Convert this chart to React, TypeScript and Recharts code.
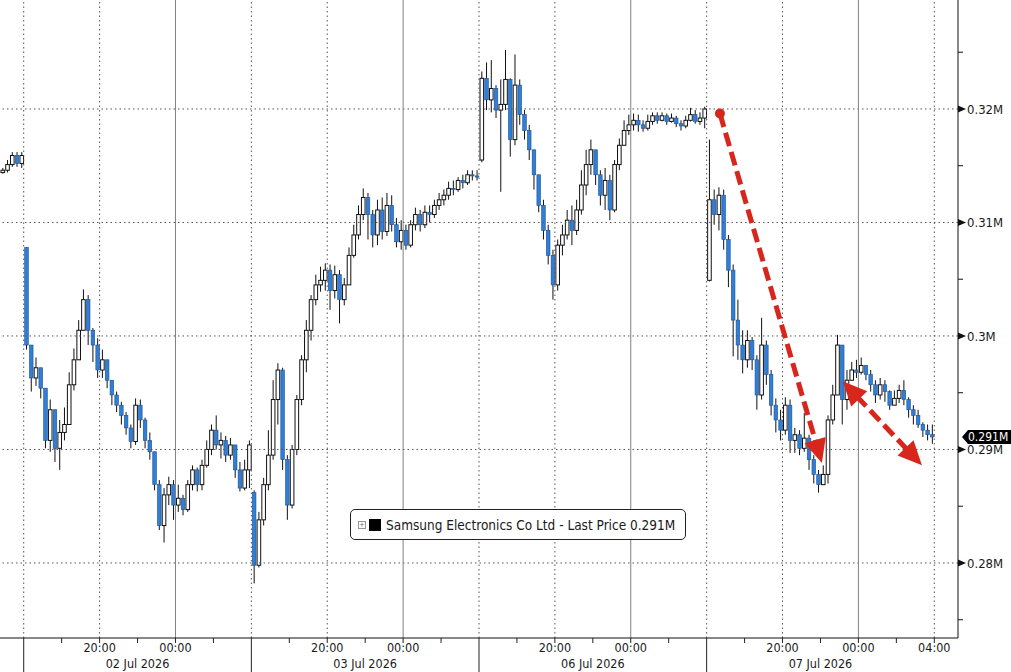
import React from "react";
import { Bar, ComposedChart, ReferenceDot, ReferenceLine, XAxis, YAxis } from "recharts";

// 15-minute candles, values in thousands: [high, low, close]; open = previous close
const sessionDates = ["01 Jul 2026", "02 Jul 2026", "03 Jul 2026", "06 Jul 2026", "07 Jul 2026"];
const sessionOpens = [314.4, 307.8, 286.2, 315.5, 304.9];
const sessionStart = [0, 5, 53, 101, 149];

const jul01 = [
  [314.8, 314.3, 314.6], [315.5, 314.4, 315.1], [316.2, 314.9, 315.9], [316.2, 314.9, 315.2], [316.2, 314.8, 315.9],
];

const jul02 = [
  [307.8, 298.8, 299.2], [297.7, 295.1, 296.3], [298.1, 295.6, 297.2], [296.8, 294.5, 295.4], [293.3, 290.1, 290.8],
  [294.4, 289.8, 293.5], [292.8, 288.9, 290.1], [292.6, 288.2, 291.5], [293.7, 290.8, 292.2], [296.8, 293.5, 295.7],
  [298.9, 295.2, 297.9], [301.4, 297.9, 300.5], [304.1, 300.5, 303.2], [303.6, 299.2, 300.5], [300.7, 297.7, 299.2],
  [299.8, 296.3, 297.0], [298.8, 296.3, 297.9], [297.9, 295.4, 296.1], [296.1, 293.9, 294.8], [295.1, 293.3, 293.9],
  [294.2, 292.2, 293.0], [293.3, 291.3, 291.9], [292.2, 290.1, 290.7], [294.5, 290.4, 293.9], [294.4, 291.9, 292.6],
  [292.8, 290.1, 290.8], [291.5, 289.1, 289.8], [289.5, 286.4, 286.9], [287.3, 282.9, 283.3], [286.6, 281.8, 286.0],
  [287.6, 285.1, 286.9], [287.3, 283.8, 285.1], [286.9, 284.5, 285.7], [286.0, 284.2, 284.7], [287.3, 284.5, 286.9],
  [288.6, 286.4, 288.2], [288.4, 286.3, 286.9], [289.1, 286.4, 288.6], [290.8, 288.4, 290.0], [292.2, 289.5, 291.7],
  [293.0, 290.0, 290.4], [291.5, 289.2, 290.8], [291.2, 288.9, 289.5], [291.0, 289.1, 290.4], [290.4, 287.5, 288.2],
  [288.9, 286.3, 286.6], [289.1, 286.4, 288.2], [290.8, 286.6, 290.4],
];

const jul03 = [
  [286.4, 278.2, 279.8], [284.5, 279.6, 283.8], [287.5, 283.3, 286.9], [291.7, 286.4, 289.5], [296.1, 289.1, 294.4],
  [297.6, 292.2, 297.0], [297.2, 288.2, 289.1], [289.5, 283.8, 285.1], [290.4, 284.8, 290.0], [294.8, 289.5, 294.4],
  [298.3, 293.9, 297.9], [301.4, 296.8, 300.5], [303.6, 299.6, 303.2], [305.4, 302.7, 304.5], [306.1, 303.9, 304.9],
  [306.4, 304.0, 305.8], [306.3, 302.3, 304.0], [306.2, 303.3, 305.4], [305.8, 301.1, 303.2], [305.1, 302.7, 304.5],
  [307.8, 304.5, 307.1], [309.8, 306.9, 308.9], [311.5, 308.5, 310.7], [313.0, 310.2, 312.2], [312.6, 308.5, 310.7],
  [311.1, 307.8, 308.9], [312.0, 308.0, 311.1], [312.2, 308.5, 309.2], [312.6, 308.8, 311.5], [312.4, 309.2, 309.8],
  [310.4, 307.8, 308.3], [310.2, 307.6, 309.3], [309.8, 307.6, 308.0], [310.2, 307.8, 309.8], [311.3, 309.3, 310.7],
  [311.1, 309.2, 309.8], [311.5, 309.5, 310.9], [311.5, 310.0, 310.7], [312.0, 310.4, 311.5], [312.6, 311.1, 312.0],
  [312.9, 311.5, 312.4], [313.6, 312.0, 313.0], [313.7, 312.4, 312.9], [314.0, 312.7, 313.7], [314.2, 313.0, 313.5],
  [314.6, 313.3, 314.2], [314.6, 313.7, 314.1], [314.6, 313.7, 314.0],
];

const jul06 = [
  [323.3, 315.3, 322.7], [324.1, 319.9, 320.8], [324.3, 319.7, 321.8], [322.1, 319.2, 319.9], [322.6, 312.7, 320.4],
  [325.2, 319.9, 322.6], [322.7, 315.8, 317.3], [324.8, 316.8, 322.1], [322.6, 318.6, 319.5], [319.9, 317.3, 318.1],
  [318.6, 315.5, 316.4], [316.4, 312.9, 314.2], [314.2, 310.9, 311.5], [312.0, 308.5, 309.3], [309.8, 306.3, 307.1],
  [307.6, 303.2, 304.5], [308.5, 304.0, 308.0], [309.8, 307.1, 308.9], [311.1, 308.5, 310.2], [311.5, 308.0, 309.3],
  [312.0, 308.9, 311.1], [314.6, 310.7, 313.3], [316.4, 312.4, 315.1], [317.3, 314.2, 316.4], [316.4, 313.3, 314.2],
  [314.6, 311.5, 312.4], [314.8, 311.1, 313.7], [314.2, 310.2, 311.1], [315.5, 310.9, 315.1], [317.4, 314.6, 316.8],
  [319.0, 316.8, 318.1], [319.5, 317.7, 318.6], [319.6, 318.1, 319.0], [319.5, 318.0, 318.6], [319.0, 318.0, 318.3],
  [319.5, 318.1, 318.9], [319.7, 318.6, 319.4], [319.7, 318.7, 319.0], [319.7, 318.9, 319.4], [319.6, 318.6, 318.9],
  [319.6, 318.8, 319.2], [319.4, 318.4, 318.7], [319.0, 318.1, 318.5], [319.4, 318.3, 319.0], [320.1, 318.9, 319.5],
  [319.9, 318.7, 318.9], [319.7, 318.6, 319.2], [320.2, 318.3, 320.0],
];

const jul07 = [
  [317.3, 304.8, 312.0], [312.9, 309.8, 310.7], [313.1, 309.3, 312.4], [312.9, 307.6, 308.5], [308.9, 304.3, 305.8],
  [306.3, 298.2, 301.4], [303.2, 297.9, 299.2], [300.5, 296.7, 297.9], [300.5, 297.2, 299.6], [299.9, 297.0, 297.9],
  [298.3, 293.5, 294.8], [301.6, 294.4, 299.2], [299.6, 295.7, 296.6], [297.0, 293.0, 293.9], [294.5, 291.5, 292.6],
  [293.5, 290.8, 291.7], [294.6, 291.3, 293.9], [294.4, 289.7, 290.8], [291.9, 289.7, 291.3], [291.7, 289.5, 290.1],
  [293.2, 289.8, 291.0], [291.3, 288.2, 289.1], [289.5, 287.0, 287.8], [288.2, 286.2, 286.9], [288.6, 286.9, 287.8],
  [293.0, 287.0, 292.6], [295.7, 292.2, 294.8], [300.1, 294.8, 299.2], [299.2, 292.2, 294.4], [297.0, 293.5, 296.1],
  [297.7, 296.1, 297.0], [297.9, 296.3, 296.8], [298.1, 296.6, 297.4], [297.4, 296.1, 296.6], [297.0, 295.1, 295.7],
  [296.1, 294.1, 294.8], [296.3, 294.4, 295.7], [296.1, 294.2, 295.1], [295.2, 293.5, 293.9], [295.2, 293.9, 294.5],
  [295.7, 294.1, 295.2], [296.1, 293.9, 294.4], [294.6, 292.8, 293.5], [293.9, 292.2, 293.0], [293.5, 291.9, 292.2],
  [292.4, 291.1, 291.7], [292.2, 290.8, 291.3], [292.2, 290.5, 291.1],
];

const sessions = [jul01, jul02, jul03, jul06, jul07];

// axis
const yMajor = [280, 290, 300, 310, 320];
const yTicks = [275, 280, 285, 290, 295, 300, 305, 310, 315, 320, 325];
const xTicks = [5, 13, 21, 29, 37, 45, 53, 61, 69, 77, 85, 93, 101, 109, 117, 125, 133, 141, 149, 157, 165, 173, 181, 189, 197];
const hourLabels: Record<number, string> = { 16: "20:00", 32: "00:00" };

// annotations
const downArrow = [{ x: 151.8, y: 319.6 }, { x: 173.3, y: 288.8 }];
const reboundArrow = [{ x: 177.7, y: 296.0 }, { x: 194.4, y: 288.6 }];

const RED = "#d9261c";
const FONT = "'DejaVu Sans Condensed', 'DejaVu Sans', sans-serif";
const W = 1011;
const H = 672;
const AXIS_Y = 638;

const rows: any[] = [];
sessions.forEach((candles, s) => {
  let prev = sessionOpens[s];
  candles.forEach(([h, l, c], i) => {
    const o = prev;
    const hi = Math.max(h, o, c);
    const lo = Math.min(l, o, c);
    rows.push({ t: sessionStart[s] + i + 0.5, o, h: hi, l: lo, c, range: [lo, hi] });
    prev = c;
  });
});
const lastClose = rows[rows.length - 1].c;
const fmtM = (v: number) => `${+(v / 1000).toFixed(3)}M`;

const Candle = (props: any) => {
  const { x, y, width, height, payload } = props;
  if (x == null || payload == null) return null;
  const top = Math.min(y, y + height);
  const bot = Math.max(y, y + height);
  const { o, h, l, c } = payload;
  const span = h - l || 1;
  const py = (v: number) => top + ((h - v) / span) * (bot - top);
  const cx = x + width / 2;
  const up = c >= o;
  const bt = py(Math.max(o, c));
  const bb = py(Math.min(o, c));
  return (
    <g>
      <line x1={cx} x2={cx} y1={top} y2={bot} stroke="#111" strokeWidth={1} />
      <rect
        x={x}
        y={bt}
        width={width}
        height={Math.max(bb - bt, 1)}
        fill={up ? "#ffffff" : "#2f7ed8"}
        stroke={up ? "#111" : "#1d4f8f"}
        strokeWidth={up ? 1 : 0.6}
      />
    </g>
  );
};

const XTick = (props: any) => {
  const { x, y, payload } = props;
  const b = payload.value;
  const off = (b - 5) % 48;
  const s = Math.floor((b - 5) / 48) + 1;
  const isSep = off === 0 && b < 197;
  const label = b === 197 ? "04:00" : hourLabels[off];
  return (
    <g>
      <line x1={x} x2={x} y1={y} y2={isSep ? H : y + 5} stroke="#222" strokeWidth={1} />
      {label && (
        <text x={x} y={y + 14} textAnchor="middle" fontSize={12.5} fill="#1a1a1a" fontFamily={FONT}>
          {label}
        </text>
      )}
      {off === 24 && (
        <text x={x} y={y + 30} textAnchor="middle" fontSize={12.5} fill="#1a1a1a" fontFamily={FONT}>
          {sessionDates[s]}
        </text>
      )}
    </g>
  );
};

const YTick = (props: any) => {
  const { x, y, payload } = props;
  const v = payload.value;
  if (!yMajor.includes(v)) {
    return <line x1={x} x2={x + 5} y1={y} y2={y} stroke="#111" strokeWidth={1} />;
  }
  return (
    <g>
      <polygon points={`${x},${y - 3.5} ${x + 8},${y} ${x},${y + 3.5}`} fill="#111" />
      <text x={x + 9} y={y} dy="0.36em" fontSize={13} fill="#1a1a1a" fontFamily={FONT}>
        {fmtM(v)}
      </text>
    </g>
  );
};

const arrowShape = (both: boolean) => (p: any) => {
  const { x1, y1, x2, y2 } = p;
  const a = Math.atan2(y2 - y1, x2 - x1);
  const L = 24;
  const Wd = 11;
  const head = (tx: number, ty: number, ang: number) => {
    const bx = tx - L * Math.cos(ang);
    const by = ty - L * Math.sin(ang);
    return `${tx},${ty} ${bx + Wd * Math.sin(ang)},${by - Wd * Math.cos(ang)} ${bx - Wd * Math.sin(ang)},${by + Wd * Math.cos(ang)}`;
  };
  const sx = both ? x1 + (L - 4) * Math.cos(a) : x1;
  const sy = both ? y1 + (L - 4) * Math.sin(a) : y1;
  const ex = x2 - (L - 4) * Math.cos(a);
  const ey = y2 - (L - 4) * Math.sin(a);
  return (
    <g>
      <line x1={sx} y1={sy} x2={ex} y2={ey} stroke={RED} strokeWidth={5} strokeDasharray="14 6" />
      <polygon points={head(x2, y2, a)} fill={RED} />
      {both && <polygon points={head(x1, y1, a + Math.PI)} fill={RED} />}
    </g>
  );
};

const PriceTag = (props: any) => {
  const { cx, cy } = props;
  if (cx == null) return null;
  const x0 = cx + 4;
  return (
    <g>
      <polygon
        points={`${x0},${cy} ${x0 + 6},${cy - 7} ${W},${cy - 7} ${W},${cy + 7} ${x0 + 6},${cy + 7}`}
        fill="#000"
      />
      <text x={x0 + 6} y={cy} dy="0.36em" fontSize={12} fill="#fff" fontFamily={FONT}>
        {fmtM(lastClose)}
      </text>
    </g>
  );
};

const gridX = xTicks.filter((b) => (b - 5) % 16 === 0);

export default function App() {
  return (
    <div style={{ position: "absolute", left: 0, top: 0, width: W, height: H, background: "#fff", fontFamily: FONT }}>
      <ComposedChart width={W} height={H} data={rows} margin={{ top: 0, right: 0, bottom: 0, left: 0 }}>
        <XAxis
          type="number"
          dataKey="t"
          domain={[0, 202]}
          allowDataOverflow
          ticks={xTicks}
          interval={0}
          height={H - AXIS_Y}
          tickSize={0}
          tickMargin={0}
          tickLine={false}
          axisLine={{ stroke: "#111" }}
          tick={<XTick />}
          padding={{ left: 0, right: 0 }}
        />
        <YAxis
          orientation="right"
          type="number"
          domain={[273.39, 329.6]}
          allowDataOverflow
          ticks={yTicks}
          interval={0}
          width={53}
          tickSize={0}
          tickMargin={0}
          tickLine={false}
          axisLine={{ stroke: "#111" }}
          tick={<YTick />}
        />
        {yMajor.map((v) => (
          <ReferenceLine key={`h${v}`} y={v} stroke="#555" strokeDasharray="1.5 3" />
        ))}
        {gridX.map((b) => (
          <ReferenceLine
            key={`v${b}`}
            x={b}
            stroke={(b - 5) % 48 === 32 ? "#808080" : "#555"}
            strokeDasharray={(b - 5) % 48 === 32 ? undefined : "1.5 3"}
          />
        ))}
        <Bar dataKey="range" barSize={3.6} shape={<Candle />} isAnimationActive={false} />
        <ReferenceLine segment={downArrow} shape={arrowShape(false)} ifOverflow="visible" />
        <ReferenceLine segment={reboundArrow} shape={arrowShape(true)} ifOverflow="visible" />
        <ReferenceDot x={downArrow[0].x} y={downArrow[0].y} r={5} fill={RED} stroke="none" />
        <ReferenceDot x={202} y={lastClose} shape={<PriceTag />} ifOverflow="visible" />
      </ComposedChart>
      <div
        style={{
          position: "absolute",
          left: 350,
          top: 509,
          width: 336,
          height: 31,
          boxSizing: "border-box",
          border: "1px solid #222",
          borderRadius: 5,
          background: "#fff",
          display: "flex",
          alignItems: "center",
          fontSize: 13.5,
          color: "#1a1a1a",
          whiteSpace: "nowrap",
        }}
      >
        <span
          style={{
            marginLeft: 7,
            width: 6,
            height: 6,
            border: "1px solid #999",
            fontSize: 7,
            lineHeight: "6px",
            textAlign: "center",
            color: "#666",
          }}
        >
          +
        </span>
        <span style={{ marginLeft: 3, width: 12, height: 12, background: "#000" }} />
        <span style={{ marginLeft: 5 }}>Samsung Electronics Co Ltd - Last Price {fmtM(lastClose)}</span>
      </div>
    </div>
  );
}
